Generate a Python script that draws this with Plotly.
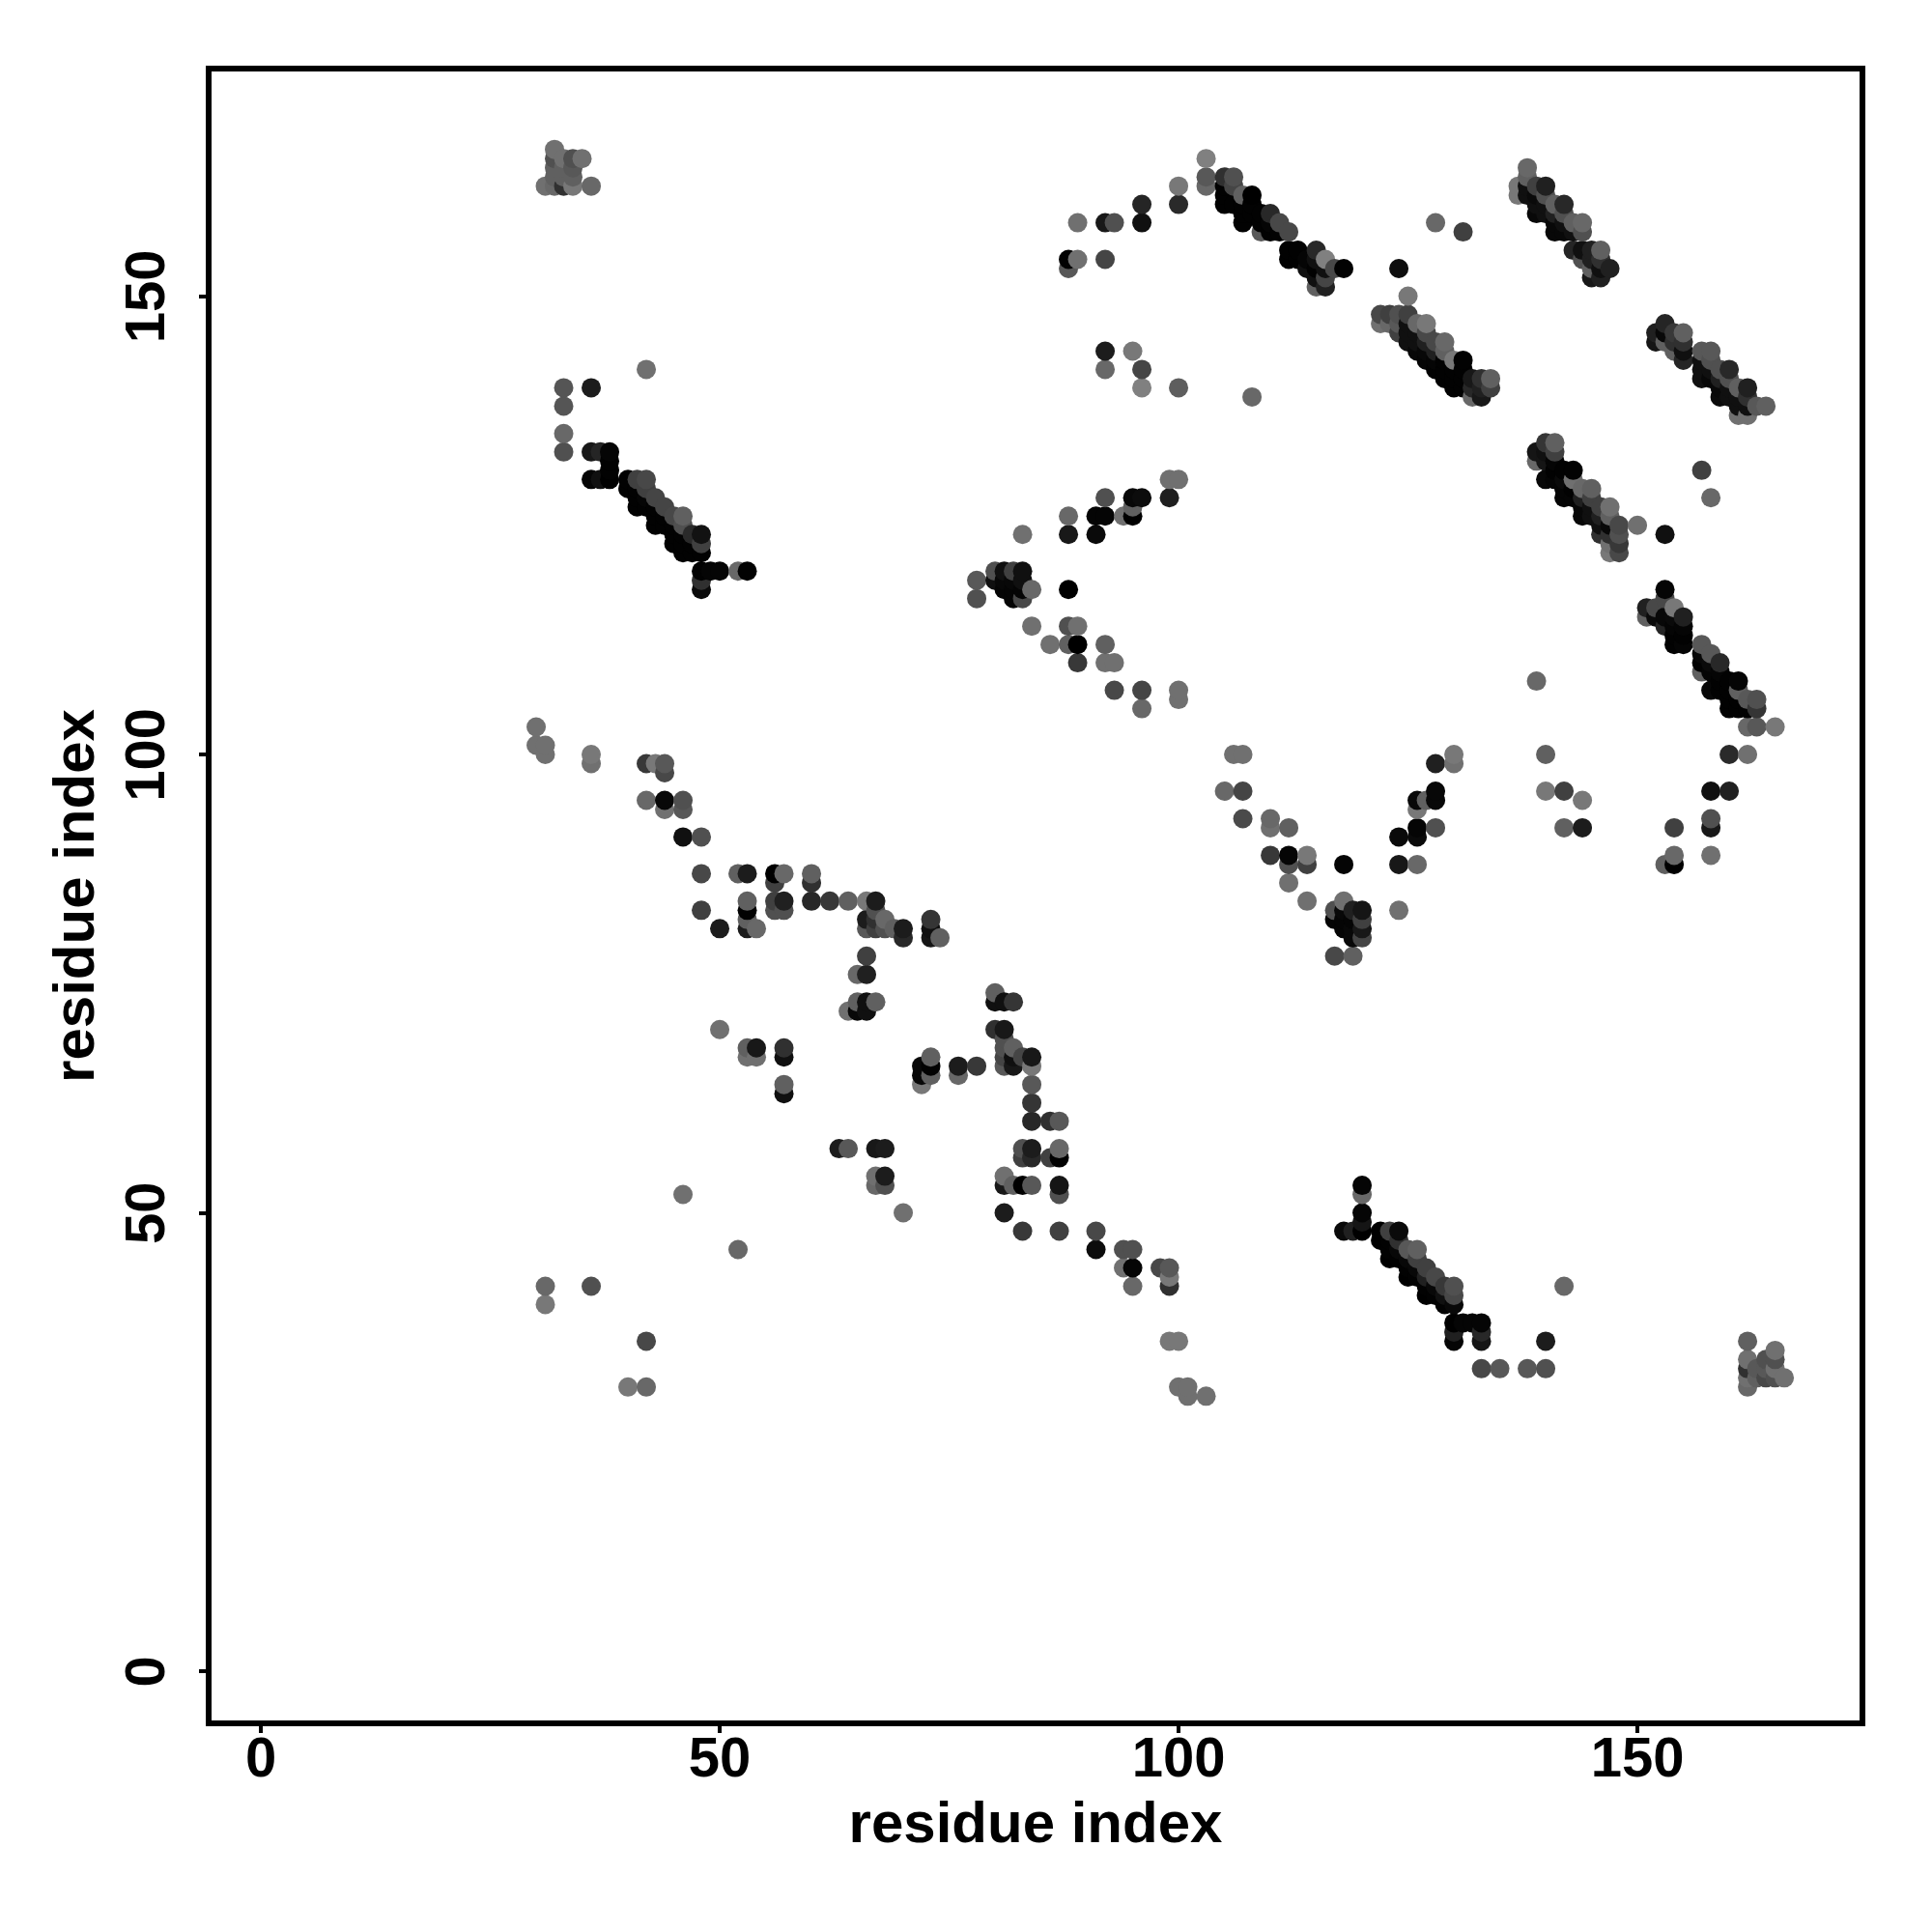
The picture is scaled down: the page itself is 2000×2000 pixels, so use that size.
import plotly.graph_objects as go

# contact pairs: (residue i, residue j, shade; 0 = strongest/black, 128 = weakest/grey)
top_left = [(31,162,0x70),(32,162,0x68),(33,162,0x30),(34,162,0x78),(36,162,0x68),(32,166,0x70),(32,165,0x50),(32,164,0x60),(33,165,0x70),(33,164,0x60),
 (34,165,0x50),(35,165,0x70),(34,164,0x58),(33,163,0x60),(32,163,0x60),(34,163,0x60)]
left_col = [(33,140,0x55),(36,140,0x1c),(33,138,0x55),(33,135,0x68),(33,133,0x50),(42,142,0x70),(36,133,0x18),(37,133,0x25),(38,133,0x05),(38,132,0x02),(38,131,0x02),
 (36,130,0x05),(37,130,0x10),(38,130,0x00)]
left_band = [(40,130,0x02),(41,130,0x40),(42,130,0x48),(40,129,0x02),(41,129,0x02),(42,129,0x40),(43,128,0x45),(41,128,0x02),(42,128,0x05),(41,127,0x02),(42,127,0x02),
 (44,127,0x45),(43,127,0x02),(45,126,0x48),(46,126,0x60),(46,125,0x50),(43,125,0x02),(44,125,0x02),(45,125,0x02),(43,126,0x02),(44,126,0x02),(47,124,0x2a),(48,124,0x12),
 (45,124,0x02),(46,124,0x02),(45,123,0x02),(46,123,0x02),(47,123,0x02),(48,123,0x40),(47,122,0x02),(48,122,0x02),(46,122,0x02),(48,120,0x02),(49,120,0x05),(50,120,0x05),
 (52,120,0x68),(53,120,0x02),(48,119,0x30),(48,118,0x0a)]
upper_mid = [(103,165,0x80),(103,163,0x58),(103,162,0x68),(100,162,0x78),(100,160,0x2a),(96,160,0x25),(96,158,0x10),(89,158,0x70),(92,158,0x18),(93,158,0x50),(88,154,0x02),
 (89,154,0x70),(88,153,0x58),(92,154,0x45),(124,153,0x0e),(125,150,0x78),(92,144,0x1c),(95,144,0x78),(92,142,0x68),(96,142,0x45),(96,140,0x80),(100,140,0x5e),(108,139,0x68)]
band_105 = [(105,163,0x30),(106,163,0x50),(106,162,0x45),(107,161,0x60),(108,161,0x00),(105,162,0x02),(105,161,0x02),(105,160,0x02),(106,160,0x02),(107,160,0x02),(108,160,0x02),
 (107,159,0x02),(108,159,0x02),(107,158,0x02),(110,159,0x28),(109,159,0x02),(109,158,0x02),(110,158,0x05),(111,158,0x48),(109,157,0x58),(110,157,0x02),(111,157,0x02),(112,157,0x48),
 (112,155,0x02),(113,155,0x02),(115,155,0x28),(112,154,0x02),(113,154,0x02),(114,154,0x05),(115,154,0x10),(116,154,0x80),(114,153,0x10),(115,153,0x02),(116,153,0x10),(117,153,0x48),
 (118,153,0x02),(115,152,0x10),(116,152,0x45),(115,151,0x60),(116,151,0x20)]
band_122 = [(122,148,0x48),(122,147,0x70),(123,148,0x40),(123,147,0x68),(124,148,0x50),(125,148,0x40),(124,147,0x58),(124,146,0x40),(126,147,0x68),(127,147,0x78),(125,147,0x10),
 (125,146,0x10),(126,146,0x10),(127,146,0x48),(125,145,0x10),(126,145,0x10),(127,145,0x20),(128,145,0x48),(129,145,0x68),(126,144,0x08),(127,144,0x08),(128,144,0x20),(129,144,0x60),
 (130,143,0x78),(131,143,0x02),(128,143,0x05),(129,143,0x02),(127,143,0x05),(128,142,0x02),(129,142,0x02),(130,142,0x02),(131,142,0x02),(129,141,0x02),(130,141,0x02),(131,141,0x02),
 (133,141,0x30),(134,141,0x60),(132,141,0x18),(130,140,0x02),(131,140,0x02),(132,140,0x28),(133,140,0x20),(134,140,0x40),(132,139,0x68),(133,139,0x18),(128,158,0x68),(131,157,0x40)]
band_138 = [(138,164,0x68),(138,163,0x60),(137,162,0x78),(137,161,0x78),(138,162,0x10),(138,161,0x10),(139,162,0x40),(140,162,0x20),(139,161,0x0a),(140,161,0x50),(139,160,0x10),(140,160,0x10),
 (141,160,0x60),(142,160,0x28),(139,159,0x08),(140,159,0x10),(141,159,0x20),(142,159,0x50),(141,158,0x08),(142,158,0x10),(143,158,0x60),(144,158,0x68),(141,157,0x08),(142,157,0x08),
 (143,157,0x10),(144,157,0x50),(143,155,0x25),(144,155,0x10),(145,155,0x20),(146,155,0x60),(144,154,0x50),(145,154,0x20),(146,154,0x30),(145,153,0x60),(146,153,0x10),(147,153,0x20),
 (145,152,0x18),(146,152,0x20)]
band_152 = [(153,147,0x25),(152,146,0x20),(152,145,0x15),(153,146,0x08),(154,146,0x38),(155,146,0x60),(153,145,0x60),(154,145,0x30),(155,145,0x30),(154,144,0x60),(155,144,0x10),(155,143,0x25),
 (157,144,0x58),(158,144,0x58),(157,143,0x10),(158,143,0x50),(157,142,0x10),(158,142,0x10),(159,142,0x50),(160,142,0x28),(157,141,0x10),(158,141,0x08),(159,141,0x20),(160,141,0x50),
 (159,140,0x08),(160,140,0x10),(161,140,0x60),(162,140,0x20),(159,139,0x0a),(160,139,0x10),(161,139,0x10),(162,139,0x30),(161,138,0x10),(162,138,0x10),(163,138,0x58),(164,138,0x60),
 (161,137,0x70),(162,137,0x70)]
band_140 = [(140,134,0x35),(141,134,0x60),(139,133,0x15),(139,132,0x68),(140,133,0x10),(141,133,0x40),(140,132,0x15),(141,132,0x05),(141,131,0x02),(142,131,0x02),(143,131,0x02),
 (140,130,0x08),(141,130,0x05),(142,130,0x0a),(143,130,0x70),(144,129,0x68),(145,129,0x60),(142,129,0x05),(143,129,0x02),(142,128,0x05),(143,128,0x05),(144,128,0x20),(145,128,0x40),
 (144,127,0x08),(145,127,0x10),(146,127,0x40),(147,127,0x70),(144,126,0x08),(145,126,0x10),(146,126,0x20),(147,126,0x60),(146,125,0x10),(147,125,0x08),(148,125,0x48),(150,125,0x70),
 (146,124,0x30),(147,124,0x30),(148,124,0x50),(153,124,0x10),(147,123,0x70),(148,123,0x38),(147,122,0x78),(148,122,0x48),(157,131,0x40),(158,128,0x68),(139,108,0x68)]
band_151 = [(153,118,0x05),(153,117,0x48),(151,116,0x20),(152,116,0x48),(154,116,0x78),(151,115,0x60),(152,115,0x0a),(153,115,0x08),(154,115,0x0a),(155,115,0x20),(153,114,0x25),(154,114,0x05),
 (155,114,0x05),(154,113,0x02),(155,113,0x02),(154,112,0x02),(155,112,0x05),(157,112,0x58),(158,111,0x58),(157,111,0x08),(159,110,0x28),(157,110,0x02),(158,110,0x0a),(157,109,0x60),
 (158,109,0x05),(159,109,0x05),(158,107,0x08),(159,107,0x02),(160,108,0x02),(161,108,0x05),(159,108,0x02),(160,107,0x02),(161,107,0x60),(162,106,0x58),(163,106,0x50),(160,106,0x02),
 (161,106,0x02),(160,105,0x02),(161,105,0x02),(162,105,0x02),(163,105,0x35),(162,103,0x68),(163,103,0x58),(165,103,0x78)]
right_lower = [(140,100,0x60),(160,100,0x2a),(162,100,0x70),(140,96,0x78),(142,96,0x40),(144,95,0x78),(142,92,0x60),(144,92,0x1c),(158,96,0x10),(160,96,0x20),(158,92,0x18),(158,93,0x50),
 (154,92,0x40),(154,89,0x68),(154,88,0x00),(153,88,0x60),(158,89,0x70)]
v_shape = [(106,100,0x70),(107,100,0x70),(105,96,0x68),(107,96,0x45),(107,93,0x4a),(110,93,0x68),(110,92,0x70),(112,92,0x60),(110,89,0x38),(112,89,0x05),(114,89,0x78),(112,88,0x50),(114,88,0x40),
 (118,88,0x05),(112,86,0x70),(114,84,0x70),(118,84,0x70),(117,83,0x50),(119,83,0x20),(120,83,0x15),(117,82,0x05),(118,83,0x08),(118,82,0x05),(119,82,0x05),(120,82,0x40),(118,81,0x05),
 (119,81,0x08),(120,81,0x18),(119,80,0x08),(120,80,0x45),(117,78,0x48),(119,78,0x60),(130,100,0x78),(130,99,0x70),(128,99,0x20),(128,96,0x08),(128,95,0x08),(126,95,0x08),(127,95,0x60),
 (126,94,0x78),(126,92,0x05),(128,92,0x50),(126,91,0x0a),(124,91,0x0a),(124,88,0x18),(126,88,0x68),(124,83,0x70)]
chevron = [(99,130,0x70),(100,130,0x70),(99,128,0x1f),(95,128,0x08),(96,128,0x0c),(92,128,0x50),(95,127,0x60),(95,126,0x00),(94,126,0x70),(88,126,0x68),(91,126,0x05),(92,126,0x05),(88,124,0x18),
 (91,124,0x0a),(83,124,0x70),(80,120,0x50),(81,120,0x10),(82,120,0x40),(83,120,0x10),(78,119,0x58),(80,119,0x10),(81,119,0x08),(82,119,0x08),(83,119,0x10),(81,118,0x05),(82,118,0x05),
 (83,118,0x05),(84,118,0x68),(88,118,0x00),(78,117,0x50),(82,117,0x05),(83,117,0x48),(84,114,0x70),(88,114,0x50),(89,114,0x70),(86,112,0x70),(88,112,0x60),(89,112,0x00),(92,112,0x60),
 (89,110,0x38),(92,110,0x70),(93,110,0x70),(93,107,0x48),(96,107,0x45),(100,107,0x70),(100,106,0x70),(96,105,0x68)]
diag_low = [(30,103,0x70),(30,101,0x70),(31,101,0x70),(31,100,0x70),(36,100,0x78),(36,99,0x70),(42,99,0x38),(43,99,0x78),(44,99,0x58),(44,98,0x48),(42,95,0x68),(44,95,0x08),(44,94,0x70),(46,95,0x50),
 (46,94,0x58),(46,91,0x10),(48,91,0x50),(48,87,0x48),(52,87,0x60),(53,87,0x1c),(56,87,0x00),(57,87,0x68),(56,86,0x40),(60,87,0x60),(60,86,0x30),(53,84,0x60),(56,84,0x40),(57,84,0x20),
 (60,84,0x28),(62,84,0x38),(64,84,0x60),(66,84,0x78),(67,84,0x1c),(48,83,0x40),(53,83,0x02),(56,83,0x50),(57,83,0x50),(67,83,0x50),(53,82,0x60),(66,82,0x1c),(68,82,0x68),(67,82,0x30),
 (73,82,0x35),(50,81,0x1c),(53,81,0x1c),(54,81,0x68),(66,81,0x58),(67,81,0x40),(68,81,0x50),(69,81,0x60),(70,81,0x1c),(73,81,0x10),(70,80,0x28),(73,80,0x15),(74,80,0x60),(66,78,0x40),
 (65,76,0x68),(66,76,0x20),(65,73,0x60),(66,73,0x10),(67,73,0x60),(64,72,0x70),(65,72,0x08),(66,72,0x10)]
mid_low = [(80,74,0x60),(80,73,0x10),(81,73,0x10),(82,73,0x35),(80,70,0x30),(81,70,0x18),(81,69,0x50),(82,68,0x60),(81,68,0x50),(81,67,0x45),(82,67,0x10),(83,67,0x45),(84,67,0x18),(81,66,0x58),
 (82,66,0x18),(84,66,0x78),(84,64,0x58),(84,62,0x35),(84,60,0x28),(86,60,0x30),(87,60,0x58),(83,57,0x50),(84,57,0x1c),(87,57,0x68),(83,56,0x40),(84,56,0x28),(86,56,0x40),(87,56,0x02),
 (81,54,0x70),(81,53,0x18),(82,53,0x60),(83,53,0x00),(84,53,0x58),(87,53,0x15),(87,52,0x50),(81,50,0x1c),(70,50,0x70),(83,48,0x38),(87,48,0x40),(91,48,0x48),(91,46,0x0c),(72,64,0x78),
 (72,65,0x08),(73,65,0x60),(76,65,0x68),(72,66,0x08),(73,66,0x02),(76,66,0x1c),(78,66,0x38),(73,67,0x60),(63,57,0x1c),(64,57,0x58),(67,57,0x18),(68,57,0x1c),(67,54,0x70),(68,54,0x1c),
 (67,53,0x68),(68,53,0x50)]
scattered = [(50,70,0x70),(53,68,0x60),(54,68,0x18),(57,68,0x30),(53,67,0x70),(54,67,0x70),(57,67,0x10),(57,64,0x60),(57,63,0x10),(46,52,0x70),(52,46,0x68),(31,42,0x68),(31,40,0x78),(36,42,0x50),
 (42,36,0x48),(40,31,0x78),(42,31,0x68),(94,46,0x50),(95,46,0x50),(94,44,0x70),(95,44,0x05),(98,44,0x48),(99,44,0x58),(99,43,0x78),(95,42,0x68),(99,42,0x30),(99,36,0x78),(100,36,0x78),
 (100,31,0x70),(101,31,0x70),(101,30,0x70),(103,30,0x70)]
band_118 = [(120,53,0x05),(120,52,0x68),(120,50,0x05),(120,49,0x15),(118,48,0x0a),(119,48,0x20),(120,48,0x00),(122,48,0x00),(123,48,0x40),(124,48,0x0a),(122,47,0x00),(123,47,0x02),(124,47,0x30),
 (123,46,0x02),(124,46,0x08),(125,46,0x58),(126,46,0x60),(123,45,0x00),(124,45,0x02),(125,45,0x08),(126,45,0x40),(125,44,0x02),(126,44,0x08),(127,44,0x40),(125,43,0x00),(126,43,0x02),
 (127,43,0x20),(128,43,0x48),(127,42,0x02),(128,42,0x08),(129,42,0x38),(130,42,0x50),(127,41,0x00),(128,41,0x02),(129,41,0x10),(130,41,0x48),(129,40,0x02),(130,40,0x08),(130,38,0x00),
 (131,38,0x05),(132,38,0x05),(133,38,0x05),(130,37,0x20),(133,37,0x28),(130,36,0x05),(133,36,0x15),(140,36,0x1c),(133,33,0x48),(135,33,0x58),(138,33,0x58),(140,33,0x50),(142,42,0x68)]
bottom_right = [(162,36,0x60),(162,34,0x70),(162,33,0x30),(162,32,0x70),(162,31,0x68),(165,35,0x70),(164,34,0x50),(165,34,0x50),(163,33,0x58),(164,33,0x58),(165,33,0x70),(163,32,0x60),(164,32,0x48),
 (165,32,0x50),(166,32,0x70)]

tick_values = [0, 50, 100, 150]
axis_title = "residue index"

clusters = [top_left, left_col, left_band, upper_mid, band_105, band_122, band_138, band_152, band_140, band_151,
            right_lower, v_shape, chevron, diag_low, mid_low, scattered, band_118, bottom_right]
points = sorted((p for c in clusters for p in c), key=lambda p: (p[0], p[1]))

FONT = "Liberation Sans"
fig = go.Figure(go.Scatter(
    x=[p[0] for p in points], y=[p[1] for p in points], mode="markers",
    marker=dict(size=20, color=[p[2] for p in points], cmin=0, cmax=128,
                colorscale=[[0, "#000000"], [1, "#808080"]], showscale=False, line=dict(width=0), opacity=1),
    hoverinfo="x+y",
))
axis = dict(tickmode="array", tickvals=tick_values, ticktext=[str(v) for v in tick_values],
            showgrid=False, zeroline=False, showline=True, linecolor="black", linewidth=6, mirror=True,
            ticks="outside", ticklen=7, tickwidth=4, tickcolor="black",
            tickfont=dict(family=FONT, size=58, color="black", weight="bold"))
fig.update_layout(
    width=2000, height=2000, margin=dict(l=211, r=83, t=66, b=227, pad=0, autoexpand=False),
    paper_bgcolor="white", plot_bgcolor="white", showlegend=False,
    xaxis=dict(axis, range=[-5.37, 174.2], ticklabelstandoff=-25,
               title=dict(text=axis_title, standoff=17, font=dict(family=FONT, size=60, color="black", weight="bold"))),
    yaxis=dict(axis, range=[-5.37, 174.5], tickangle=-90, ticklabelstandoff=13, ticklabelshift=9,
               title=dict(text=axis_title, standoff=2, font=dict(family=FONT, size=60, color="black", weight="bold"))),
)
fig.write_html("out.html")
